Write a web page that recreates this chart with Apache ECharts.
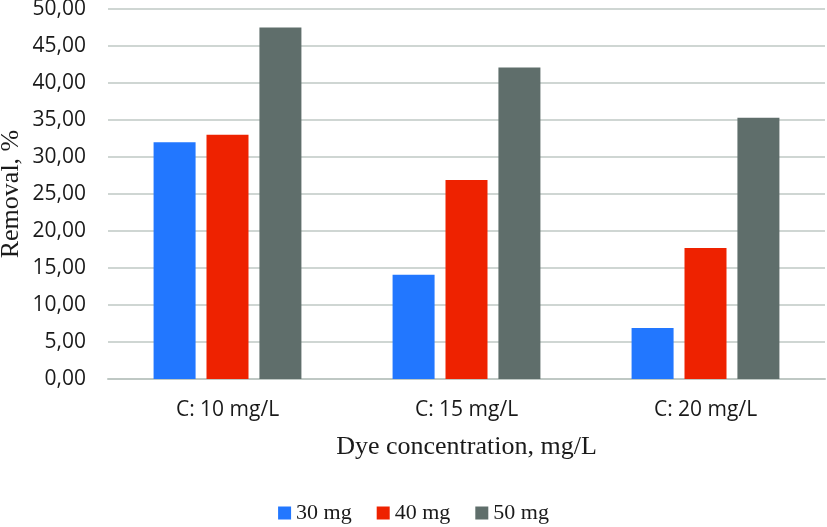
<!DOCTYPE html>
<html>
<head>
<meta charset="utf-8">
<script src="https://cdn.jsdelivr.net/npm/echarts@6/dist/echarts.min.js"></script>
<style>html,body{margin:0;padding:0;background:#fff}#c{width:827px;height:527px}</style>
</head>
<body>
<div id="c"></div>
<script>
const categories = ['C: 10 mg/L', 'C: 15 mg/L', 'C: 20 mg/L'];
const seriesNames = ['30 mg', '40 mg', '50 mg'];
const values30 = [32.0, 14.1, 6.9];
const values40 = [33.0, 26.9, 17.7];
const values50 = [47.5, 42.1, 35.3];
const colors = ['#2277ff', '#ee2200', '#5f6e6b'];

const chart = echarts.init(document.getElementById('c'), null, {renderer: 'canvas'});
const seriesData = [values30, values40, values50];
chart.setOption({
  animation: false,
  backgroundColor: '#ffffff',
  color: colors,
  grid: {left: 108, right: 2, top: 9, bottom: 148, containLabel: false, outerBoundsMode: 'none'},
  legend: {
    data: seriesNames,
    left: 'center',
    top: 497,
    itemWidth: 13,
    itemHeight: 13,
    itemGap: 25,
    icon: 'rect',
    textStyle: {fontFamily: 'Liberation Serif', fontSize: 22, color: '#1a1a1a'}
  },
  xAxis: {
    type: 'category',
    data: categories,
    axisTick: {show: false},
    axisLine: {lineStyle: {color: '#bfc8c4', width: 2}},
    axisLabel: {fontFamily: 'Open Sans', fontSize: 21, color: '#1a1a1a', margin: 21},
    name: 'Dye concentration, mg/L',
    nameLocation: 'middle',
    nameGap: 55,
    nameMoveOverlap: false,
    nameTextStyle: {fontFamily: 'Liberation Serif', fontSize: 26, color: '#1a1a1a'}
  },
  yAxis: {
    type: 'value',
    min: 0,
    max: 50,
    interval: 5,
    axisLine: {show: false},
    axisTick: {show: false},
    splitLine: {lineStyle: {color: '#bfc8c4', width: 1.6}},
    axisLabel: {
      fontFamily: 'Open Sans', fontSize: 21, color: '#1a1a1a', margin: 22,
      formatter: v => v.toFixed(2).replace('.', ',')
    },
    name: 'Removal, %',
    nameLocation: 'middle',
    nameGap: 84,
    nameMoveOverlap: false,
    nameTextStyle: {fontFamily: 'Liberation Serif', fontSize: 26, color: '#1a1a1a'}
  },
  series: seriesNames.map((n, i) => ({
    name: n,
    type: 'bar',
    data: seriesData[i],
    barWidth: 42,
    barGap: '26%',
    itemStyle: {color: colors[i]}
  }))
});
</script>
</body>
</html>
